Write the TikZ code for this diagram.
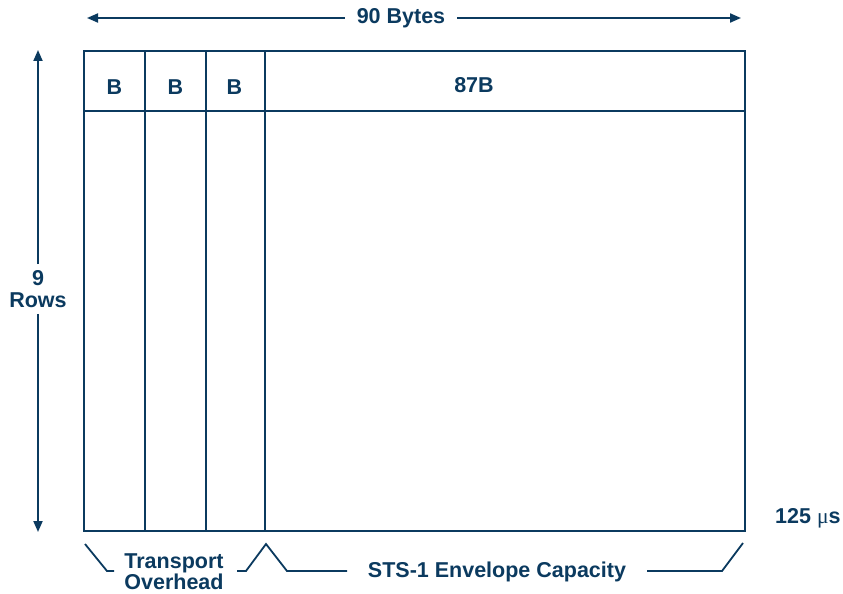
\documentclass[tikz,border=0pt]{standalone}
\usepackage{fontspec}
\setmainfont{Liberation Sans}
\newfontfamily\mufont{Liberation Serif}
\usetikzlibrary{arrows.meta}
\definecolor{navy}{HTML}{0B3A5F}
\tikzset{
  lbl/.style={font=\fontsize{21.5}{22}\selectfont\bfseries, text=navy, inner sep=0pt, align=center},
  frame/.style={draw=navy, line width=2pt},
  dim/.style={draw=navy, line width=2pt, -{Triangle[length=11pt,width=9pt]}},
  brk/.style={draw=navy, line width=1.8pt, line join=miter}
}
\begin{document}
\begin{tikzpicture}[x=1pt,y=-1pt]
\useasboundingbox (0,0) rectangle (843,594);
% frame
\draw[frame] (84,51) rectangle (745,531);
\draw[frame] (84,111) -- (745,111);
\draw[frame] (145,51) -- (145,531);
\draw[frame] (206,51) -- (206,531);
\draw[frame] (265,51) -- (265,531);
% cell labels
\node[lbl] (b1) at (114.5,87) {B};
\node[lbl] (b2) at (175.5,87) {B};
\node[lbl] (b3) at (234.5,87) {B};
\node[lbl] (b87) at (474,85) {87B};
% top dimension
\node[lbl, inner xsep=12pt] (bytes) at (401,18) {90 Bytes};
\coordinate (tl) at (87,18);
\coordinate (tr) at (741,18);
\draw[dim] (bytes.west) -- (tl);
\draw[dim] (bytes.east) -- (tr);
% left dimension
\node[lbl, inner ysep=6pt] (rows) at (38,289) {9\\Rows};
\coordinate (lt) at (38,50);
\coordinate (lb) at (38,532);
\draw[dim] (rows.north) -- (lt);
\draw[dim] (rows.south) -- (lb);
% time
\node[lbl, anchor=west] (time) at (775,518) {125 {\mufont\mdseries μ}s};
% bottom braces
\node[lbl, font=\fontsize{21.5}{21}\selectfont\bfseries] (to) at (174,572) {Transport\\Overhead};
\node[lbl] (sts) at (497,572) {STS-1 Envelope Capacity};
\coordinate (a1) at (85,544);
\coordinate (a2) at (107,571);
\coordinate (a3) at (114,571);
\coordinate (c1) at (237,571);
\coordinate (c2) at (246,571);
\coordinate (c3) at (266,544);
\coordinate (c4) at (287,571);
\coordinate (c5) at (347,571);
\coordinate (d1) at (647,571);
\coordinate (d2) at (722,571);
\coordinate (d3) at (743,543);
\draw[brk] (a1) -- (a2) -- (a3);
\draw[brk] (c1) -- (c2) -- (c3) -- (c4) -- (c5);
\draw[brk] (d1) -- (d2) -- (d3);
\end{tikzpicture}
\end{document}
